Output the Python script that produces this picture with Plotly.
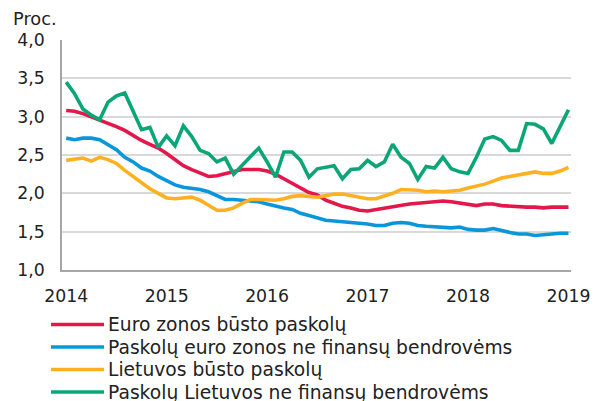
import plotly.graph_objects as go

months = list(range(61))  # Jan 2014 .. Jan 2019, monthly
tick_pos = [0, 12, 24, 36, 48, 60]
tick_text = ["2014", "2015", "2016", "2017", "2018", "2019"]

euro_housing = [3.08, 3.07, 3.04, 3.00, 2.96, 2.92, 2.87, 2.82, 2.75, 2.69,
                2.64, 2.59, 2.52, 2.44, 2.36, 2.31, 2.26, 2.22, 2.23, 2.26,
                2.29, 2.31, 2.31, 2.31, 2.29, 2.25, 2.19, 2.13, 2.06, 2.01,
                1.98, 1.91, 1.87, 1.83, 1.81, 1.78, 1.77, 1.79, 1.80, 1.83,
                1.84, 1.86, 1.87, 1.88, 1.90, 1.90, 1.89, 1.87, 1.86, 1.84,
                1.86, 1.86, 1.84, 1.83, 1.82, 1.82, 1.82, 1.81, 1.82, 1.82, 1.82]

euro_nfc = [2.72, 2.70, 2.72, 2.72, 2.70, 2.64, 2.57, 2.47, 2.41, 2.33,
            2.29, 2.22, 2.16, 2.11, 2.08, 2.07, 2.05, 2.02, 1.97, 1.92,
            1.92, 1.91, 1.90, 1.89, 1.86, 1.83, 1.81, 1.79, 1.74, 1.71,
            1.68, 1.65, 1.64, 1.63, 1.63, 1.62, 1.60, 1.58, 1.58, 1.61,
            1.62, 1.61, 1.58, 1.57, 1.56, 1.55, 1.55, 1.56, 1.53, 1.52,
            1.52, 1.54, 1.51, 1.49, 1.47, 1.47, 1.45, 1.46, 1.48, 1.48, 1.48]

lt_housing = [2.43, 2.45, 2.46, 2.42, 2.47, 2.44, 2.39, 2.30, 2.22, 2.15,
              2.06, 2.00, 1.94, 1.93, 1.94, 1.95, 1.91, 1.84, 1.78, 1.78,
              1.81, 1.87, 1.92, 1.92, 1.92, 1.91, 1.93, 1.96, 1.97, 1.96,
              1.95, 1.97, 1.99, 1.99, 1.97, 1.95, 1.93, 1.93, 1.96, 2.00,
              2.05, 2.05, 2.04, 2.02, 2.03, 2.02, 2.03, 2.04, 2.07, 2.09,
              2.12, 2.16, 2.20, 2.22, 2.24, 2.27, 2.28, 2.26, 2.26, 2.29, 2.34]

lt_nfc = [3.45, 3.30, 3.10, 3.02, 2.96, 3.19, 3.27, 3.31, 3.07, 2.83,
          2.86, 2.60, 2.75, 2.62, 2.88, 2.74, 2.56, 2.52, 2.41, 2.46,
          2.25, 2.36, 2.48, 2.59, 2.41, 2.21, 2.54, 2.54, 2.43, 2.21,
          2.32, 2.34, 2.36, 2.19, 2.31, 2.32, 2.43, 2.35, 2.41, 2.64,
          2.47, 2.39, 2.18, 2.35, 2.33, 2.47, 2.32, 2.28, 2.26, 2.47,
          2.71, 2.74, 2.69, 2.56, 2.56, 2.91, 2.90, 2.84, 2.65, 2.87, 3.09]

series_names = ["Euro zonos būsto paskolų",
                "Paskolų euro zonos ne finansų bendrovėms",
                "Lietuvos būsto paskolų",
                "Paskolų Lietuvos ne finansų bendrovėms"]
series_values = [euro_housing, euro_nfc, lt_housing, lt_nfc]
colors = ["#E3174A", "#0A97D9", "#FDB121", "#0BA678"]

FONT = "DejaVu Sans"
TXT = "#222222"

fig = go.Figure()
for name, vals, col in zip(series_names, series_values, colors):
    fig.add_trace(go.Scatter(x=months, y=vals, mode="lines", name=name,
                             line=dict(color=col, width=3.6),
                             showlegend=False))

# custom legend (paper coords, relative to plot area 509x230 px)
W, H = 509.0, 230.0
rows_px = [324.5, 347, 369.5, 392]
shapes = []
annotations = []
for name, col, py in zip(series_names, colors, rows_px):
    yp = (270 - py) / H
    shapes.append(dict(type="line", xref="paper", yref="paper",
                       x0=(51 - 62) / W, x1=(104 - 62) / W, y0=yp, y1=yp,
                       line=dict(color=col, width=3.6)))
    annotations.append(dict(text=name, xref="paper", yref="paper",
                            x=(106 - 62) / W, y=yp, xanchor="left", yanchor="middle",
                            showarrow=False, font=dict(family=FONT, size=18.7, color=TXT)))

annotations.append(dict(text="Proc.", xref="paper", yref="paper",
                        x=(11 - 62) / W, y=(270 - 18) / H, xanchor="left", yanchor="middle",
                        showarrow=False, font=dict(family=FONT, size=17.8, color=TXT)))

# page body has an 8px default margin, so the figure is 8px smaller
fig.update_layout(
    width=590, height=393,
    margin=dict(l=54, r=27, t=32, b=131),
    paper_bgcolor="white", plot_bgcolor="white",
    separators=", ",
    font=dict(family=FONT, size=17.3, color=TXT),
    shapes=shapes, annotations=annotations,
    showlegend=False,
)
fig.update_xaxes(range=[-0.5, 60.3], tickvals=tick_pos, ticktext=tick_text,
                 showgrid=False, zeroline=False, showline=True, automargin=False,
                 linecolor="#A6A6A6", linewidth=1.5, ticks="",
                 ticklabelstandoff=9, tickfont=dict(family=FONT, size=17.3, color=TXT))
fig.update_yaxes(range=[1, 4], tickvals=[1, 1.5, 2, 2.5, 3, 3.5, 4], tickformat=".1f",
                 showgrid=True, gridcolor="#D9D9D9", gridwidth=1.5, automargin=False,
                 zeroline=False, showline=True, linecolor="#A6A6A6", linewidth=1.5,
                 ticks="", ticklabelstandoff=12,
                 tickfont=dict(family=FONT, size=17.3, color=TXT))

fig.write_html("out.html")
